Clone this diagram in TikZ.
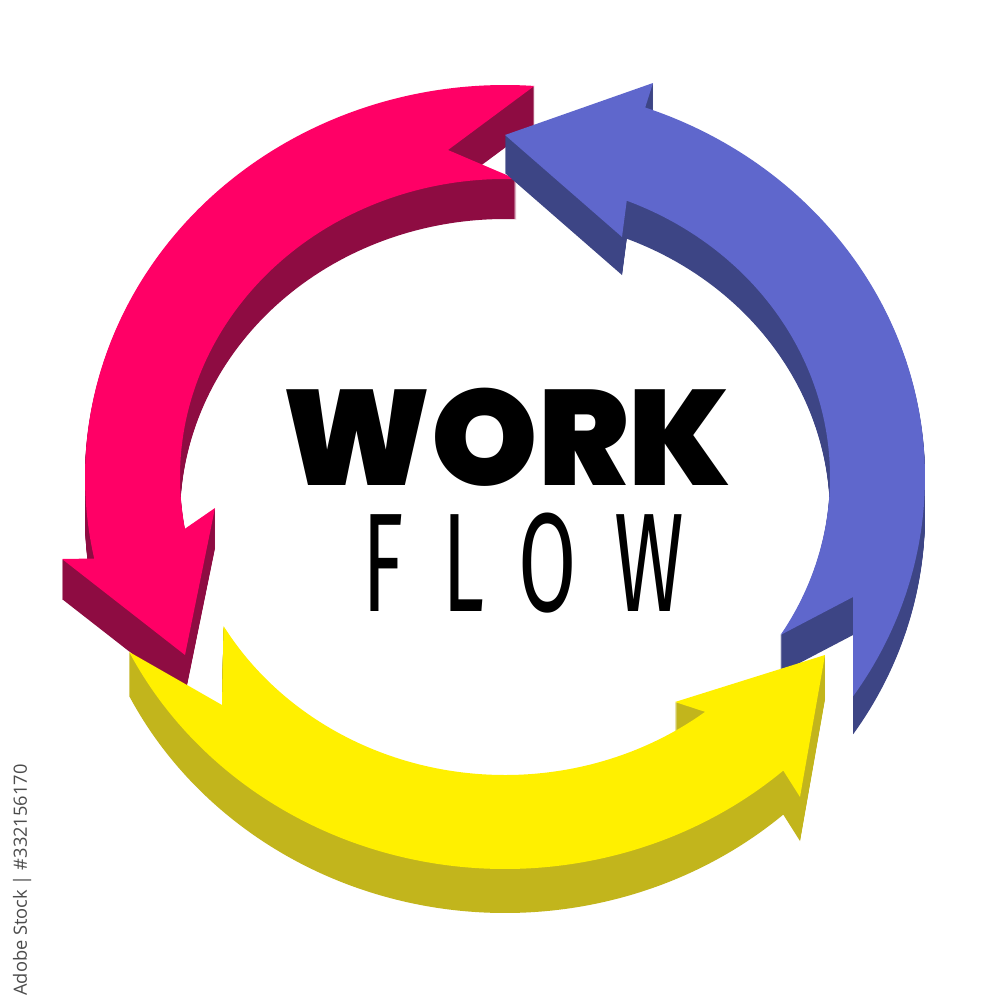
\documentclass[tikz,border=0pt]{standalone}
\usepackage{fontspec}
\newfontfamily\workfont{Poppins Black}
\newfontfamily\flowfont{Fira Sans}[LetterSpace=45]
\newfontfamily\stockfont{Open Sans}

\definecolor{pinktop}{HTML}{FF0066}
\definecolor{pinkside}{HTML}{8E0C42}
\definecolor{bluetop}{HTML}{5F67CC}
\definecolor{blueside}{HTML}{3D4585}
\definecolor{yellowtop}{HTML}{FFF000}
\definecolor{yellowside}{HTML}{C2B51C}

% top faces of the three arrows, pixel units, ring centre (505,477)
% outer ellipse 420 x 392, inner ellipse 325 x 298
\newcommand{\pinkarrow}{({505+420*cos(-86)},{477+392*sin(-86)}) arc[start angle=-86, end angle=-192, x radius=420, y radius=392] -- (62,559) -- (185,655) -- (215,508) -- ({505+325*cos(-190)},{477+298*sin(-190)}) arc[start angle=-190, end angle=-88, x radius=325, y radius=298] -- (448,150) -- cycle}
\newcommand{\bluearrow}{(505,135) -- (653,83) -- ({505+420*cos(-70.5)},{477+392*sin(-70.5)}) arc[start angle=-70.5, end angle=34, x radius=420, y radius=392] -- (853,597) -- ({505+325*cos(32)},{477+298*sin(32)}) arc[start angle=32, end angle=-68, x radius=325, y radius=298] -- (622,237) -- cycle}
\newcommand{\yellowarrow}{({505+420*cos(153.5)},{477+392*sin(153.5)}) -- (222,705) -- ({505+325*cos(150)},{477+298*sin(150)}) arc[start angle=150, end angle=52, x radius=325, y radius=298] -- (675,702) -- (825,655) -- (800,797) -- ({505+420*cos(48.5)},{477+392*sin(48.5)}) arc[start angle=48.5, end angle=153.5, x radius=420, y radius=392] -- cycle}

\begin{document}
\begin{tikzpicture}[x=0.1mm, y=-0.1mm,
  label text/.style={inner sep=0, text=black, text depth=0pt}]

\fill[white] (0,0) rectangle (1000,1000);
\useasboundingbox (0,0) rectangle (1000,1000);

% pink arrow
\foreach \d in {1,...,40}
  \fill[pinkside, shift={(0,\d)}] \pinkarrow;
\fill[pinktop] \pinkarrow;

% blue arrow
\foreach \d in {1,...,38}
  \fill[blueside, shift={(0,\d)}] \bluearrow;
\fill[bluetop] \bluearrow;

% yellow arrow
\foreach \d in {1,...,44}
  \fill[yellowside, shift={(0,\d)}] \yellowarrow;
\fill[yellowtop] \yellowarrow;

\node[label text, anchor=west, text height=27pt, font=\workfont\fontsize{38.5}{38.5}\selectfont] (work) at (282,438) {WORK};
\node[label text, anchor=west, text height=27.6pt, font=\flowfont\fontsize{40}{40}\selectfont] (flow) at (362,563) {\scalebox{0.6}[1]{FLOW}};

\node[label text, rotate=90, text=black!70, font=\stockfont\fontsize{5.2}{6}\selectfont] (stock) at (20,880) {Adobe Stock | \#332156170};

\end{tikzpicture}
\end{document}
